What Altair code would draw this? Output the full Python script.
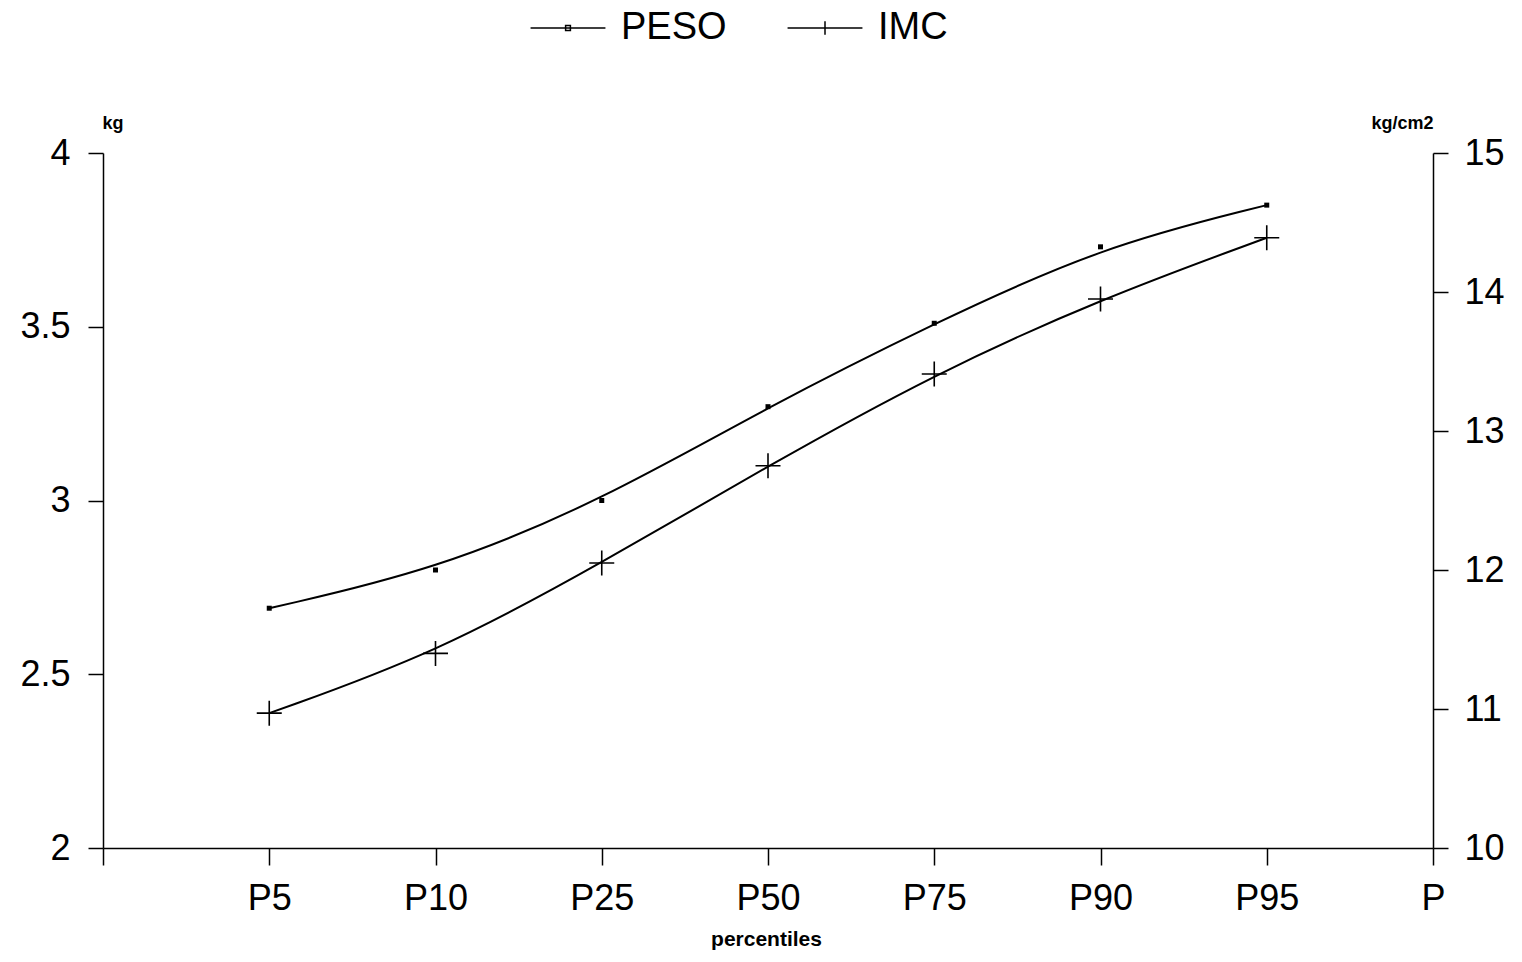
import altair as alt
import pandas as pd

x_domain = [" ", "P5", "P10", "P25", "P50", "P75", "P90", "P95", "P"]
percentiles = ["P5", "P10", "P25", "P50", "P75", "P90", "P95"]
peso = [2.69, 2.80, 3.00, 3.27, 3.51, 3.73, 3.85]
imc = [10.97, 11.40, 12.05, 12.75, 13.41, 13.95, 14.39]
series_names = ["PESO", "IMC"]
left_ticks = [2, 2.5, 3, 3.5, 4]
right_ticks = [10, 11, 12, 13, 14, 15]

FONT = "Liberation Sans"

df = pd.DataFrame(
    {
        "pct": percentiles * 2,
        "series": ["PESO"] * len(peso) + ["IMC"] * len(imc),
        "value": peso + imc,
    }
)

x_enc = alt.X(
    "pct:O",
    scale=alt.Scale(type="point", domain=x_domain, padding=0),
    axis=alt.Axis(
        title="percentiles",
        grid=False,
        labelAngle=0,
        tickSize=17,
        labelPadding=16,
        labelFontSize=36,
        titleFontSize=21,
        titleFontWeight="bold",
        titleX=663,
        titleY=97,
        titleBaseline="alphabetic",
        titleAlign="center",
    ),
)

legend_paths = [
    "M-1.56,0L1.56,0M-0.1,-0.1L0.1,-0.1L0.1,0.1L-0.1,0.1Z",
    "M-1.56,0L1.56,0M0,-0.28L0,0.28",
]

shape_enc = alt.Shape(
    "series:N",
    scale=alt.Scale(domain=series_names, range=legend_paths),
    legend=alt.Legend(
        title=None,
        orient="none",
        direction="horizontal",
        legendX=440,
        legendY=-150,
        symbolSize=2304,
        symbolStrokeWidth=1.5,
        symbolStrokeColor="black",
        symbolFillColor="black",
        symbolOpacity=1,
        labelFontSize=38,
        labelFont=FONT,
        labelColor="black",
        labelOffset=28,
        labelLimit=0,
        columnPadding=57,
        padding=0,
    ),
)

base = alt.Chart(df)

left_y = alt.Y(
    "value:Q",
    scale=alt.Scale(domain=[2, 4], nice=False, zero=False),
    axis=alt.Axis(
        values=left_ticks,
        grid=False,
        format=".1~f",
        orient="left",
        title="kg",
        titleAngle=0,
        titleX=-1,
        titleY=-25,
        titleAlign="left",
        titleBaseline="alphabetic",
        titleFontSize=18,
        titleFontWeight="bold",
        tickSize=15,
        labelPadding=18,
        labelFontSize=36,
    ),
)

right_y = alt.Y(
    "value:Q",
    scale=alt.Scale(domain=[10, 15], nice=False, zero=False),
    axis=alt.Axis(
        values=right_ticks,
        grid=False,
        format="d",
        orient="right",
        title="kg/cm2",
        titleAngle=0,
        titleX=0,
        titleY=-25,
        titleAlign="right",
        titleBaseline="alphabetic",
        titleFontSize=18,
        titleFontWeight="bold",
        tickSize=15,
        labelPadding=16,
        labelFontSize=36,
    ),
)

peso_base = base.transform_filter(alt.datum.series == "PESO")
imc_base = base.transform_filter(alt.datum.series == "IMC")

peso_line = peso_base.mark_line(interpolate="basis", strokeWidth=2, color="black").encode(
    x=x_enc, y=left_y
)
peso_pts = peso_base.mark_point(shape="square", filled=True, size=25, color="black", opacity=1).encode(
    x=x_enc, y=left_y
)
legend_layer = base.mark_point(opacity=0, filled=False, color="black").encode(
    x=x_enc, y=alt.value(0), shape=shape_enc
)
imc_line = imc_base.mark_line(interpolate="basis", strokeWidth=2, color="black").encode(
    x=x_enc, y=right_y
)
imc_pts = imc_base.mark_point(
    shape="M-1,0L1,0M0,-1L0,1", filled=False, size=625, strokeWidth=1.6, color="black", opacity=1
).encode(x=x_enc, y=right_y)

left_layer = alt.layer(peso_line, peso_pts, legend_layer)
right_layer = alt.layer(imc_line, imc_pts)

chart = (
    alt.layer(left_layer, right_layer)
    .resolve_scale(y="independent")
    .properties(
        width=1330,
        height=695,
        background="white",
        autosize=alt.AutoSizeParams(type="none"),
        padding={"left": 95, "top": 145, "right": 79, "bottom": 104},
    )
    .configure_view(stroke=None)
    .configure_axis(
        grid=False,
        domainColor="black",
        domainWidth=1.5,
        tickColor="black",
        tickWidth=1.5,
        labelColor="black",
        titleColor="black",
        labelFont=FONT,
        titleFont=FONT,
    )
)

chart.save("out.html", embed_options={"renderer": "svg", "actions": False})
